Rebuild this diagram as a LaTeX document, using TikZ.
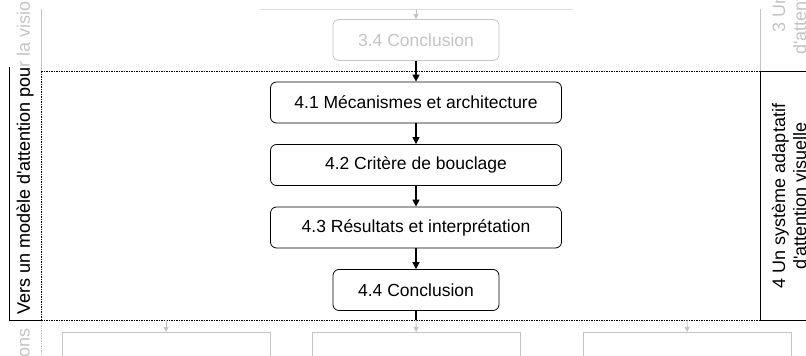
\documentclass[tikz,border=0pt]{standalone}
\usepackage{fontspec}
\setmainfont{Liberation Sans}[Ligatures=TeXOff]
\usetikzlibrary{arrows.meta}

\definecolor{faded}{RGB}{196,196,196}

\begin{document}
\begin{tikzpicture}[x=1pt, y=-1pt,
    box/.style={rectangle, rounded corners=6pt, draw, line width=0.8pt, minimum height=41pt, font=\fontsize{17.5}{21}\selectfont},
    wide/.style={box, minimum width=291pt},
    narrow/.style={box, minimum width=166pt},
    oldbox/.style={narrow, draw=faded, text=faded},
    nextbox/.style={rectangle, draw=faded, line width=0.8pt, minimum width=208pt, minimum height=60pt, anchor=north},
    link/.style={-{Triangle[width=7pt,length=7pt]}, line width=1.5pt},
    oldlink/.style={-{Triangle[width=5pt,length=5pt]}, line width=0.9pt, draw=faded, fill=faded},
    sep/.style={dash pattern=on 1.5pt off 1pt, line width=0.7pt},
    label/.style={rotate=90, inner sep=0pt, font=\fontsize{18}{21}\selectfont}]
    \useasboundingbox (0,0) rectangle (806,356);
    \clip (0,0) rectangle (806,356);

    % Draw nodes
    \node[oldbox] (c34) at (416,40) {3.4 Conclusion};
    \node[wide] (c41) at (416,102.5) {4.1 Mécanismes et architecture};
    \node[wide] (c42) at (416,165) {4.2 Critère de bouclage};
    \node[wide] (c43) at (416,227.5) {4.3 Résultats et interprétation};
    \node[narrow] (c44) at (416,290) {4.4 Conclusion};

    \node[nextbox] (n1) at (166,332) {};
    \node[nextbox] (n2) at (416.5,332) {};
    \node[nextbox] (n3) at (687.5,332) {};

    \coordinate (top) at (416,9);
    \coordinate (cut1) at (166,320);
    \coordinate (cut2) at (416,320);
    \coordinate (cut3) at (687,320);

    % Draw frames
    \draw[faded!60, line width=0.6pt] (260,9) -- (573,9);
    \draw[faded, line width=0.8pt] (41,9) -- (41,71);
    \draw[faded, line width=0.8pt] (760,9) -- (760,71);
    \draw[faded, sep] (41,320) -- (41,356);
    \draw[sep] (41,71) -- (760,71);
    \draw[sep] (41,320) -- (760,320);
    \draw[sep] (41,71) -- (41,320);
    \draw[line width=0.8pt] (9,67) -- (9,320) -- (41,320);
    \draw[line width=0.8pt] (806,71) -- (760,71) -- (760,320) -- (806,320);

    % Draw connections
    \draw[oldlink] (top) -- (c34);
    \draw[link] (c34) -- (c41);
    \draw[link] (c41) -- (c42);
    \draw[link] (c42) -- (c43);
    \draw[link] (c43) -- (c44);
    \draw[line width=1.5pt] (c44) -- (cut2);
    \draw[oldlink] (cut1) -- (n1);
    \draw[oldlink] (cut2) -- (n2);
    \draw[oldlink] (cut3) -- (n3);

    % Labels
    \node[label, text=faded, anchor=west] (part) at (25,315) {Vers un modèle d'attention pour la vision};
    \begin{scope}
        \clip (9,67) rectangle (41,320);
        \node[label, anchor=west] (partin) at (25,315) {Vers un modèle d'attention pour la vision};
    \end{scope}
    \node[label, text=faded, anchor=east] (partnext) at (25,328) {Applications};
    \node[label, align=center] (chap4) at (789,196) {4 Un système adaptatif\\d'attention visuelle};
    \node[label, align=center, text=faded] (chap3) at (789,-19) {3 Un modèle\\d'attention visuelle};
\end{tikzpicture}
\end{document}
